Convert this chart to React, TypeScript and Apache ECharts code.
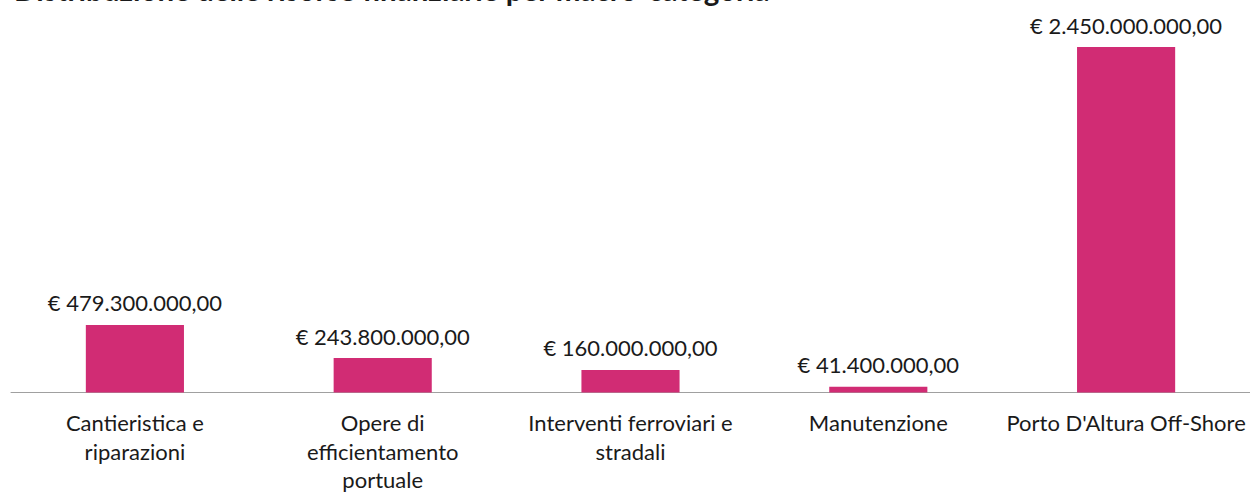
import React, { useEffect, useRef } from "react";
import * as echarts from "echarts";

const TITLE = "Distribuzione delle risorse finanziarie per macro-categoria";
const categories = [
  "Cantieristica e\nriparazioni",
  "Opere di\nefficientamento\nportuale",
  "Interventi ferroviari e\nstradali",
  "Manutenzione",
  "Porto D'Altura Off-Shore",
];
const values = [479300000, 243800000, 160000000, 41400000, 2450000000];

function formatEuro(v: number): string {
  const [intPart, dec] = v.toFixed(2).split(".");
  const withDots = intPart.replace(/\B(?=(\d{3})+(?!\d))/g, ".");
  return "€ " + withDots + "," + dec;
}

export default function App() {
  const ref = useRef<HTMLDivElement>(null);
  useEffect(() => {
    if (!ref.current) return;
    const chart = echarts.init(ref.current, null, { renderer: "svg" });
    chart.setOption({
      animation: false,
      backgroundColor: "#ffffff",
      title: {
        text: TITLE,
        left: 9,
        top: -30.5,
        textStyle: {
          fontFamily: "Lato",
          fontWeight: "bold",
          fontSize: 29.5,
          color: "#1a1a1a",
        },
      },
      grid: {
        left: 11,
        right: 0,
        top: 47,
        bottom: 100.5,
        containLabel: false,
        outerBoundsMode: "none",
      },
      xAxis: {
        type: "category",
        data: categories,
        axisLine: { lineStyle: { color: "#a0a0a0", width: 1 } },
        axisTick: { show: false },
        axisLabel: {
          interval: 0,
          margin: 16,
          fontFamily: "Lato",
          fontSize: 22,
          lineHeight: 28.5,
          color: "#1a1a1a",
        },
      },
      yAxis: {
        type: "value",
        min: 0,
        max: 2450000000,
        show: false,
        splitLine: { show: false },
      },
      series: [
        {
          type: "bar",
          data: values,
          barCategoryGap: "60.4%",
          itemStyle: { color: "#D12C74" },
          label: {
            show: true,
            position: "top",
            distance: 11,
            fontFamily: "Lato",
            fontSize: 22,
            color: "#1a1a1a",
            formatter: (p: any) => formatEuro(p.value),
          },
        },
      ],
    });
    return () => chart.dispose();
  }, []);
  return (
    <div
      ref={ref}
      style={{ position: "fixed", left: 0, top: 0, width: 1250, height: 493 }}
    />
  );
}
